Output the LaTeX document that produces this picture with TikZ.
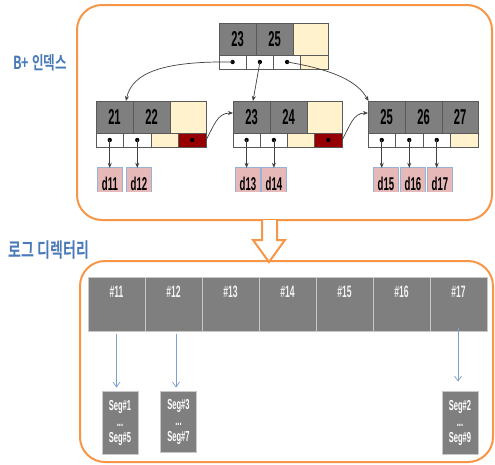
\documentclass[tikz,border=0pt]{standalone}
\usepackage{fontspec}
\usetikzlibrary{arrows.meta}
\newfontfamily\numfont{Liberation Sans}[FakeStretch=0.52]
\newfontfamily\krfont{Noto Sans CJK KR Bold}[FakeStretch=0.7]
\definecolor{orng}{HTML}{F79646}
\definecolor{keygrey}{HTML}{7F7F7F}
\definecolor{cellline}{HTML}{595959}
\definecolor{beige}{HTML}{FFF2CC}
\definecolor{dkred}{HTML}{960000}
\definecolor{pinkfill}{HTML}{E6B9B8}
\definecolor{pinkline}{HTML}{95B3D7}
\definecolor{lblblue}{HTML}{4A7AB8}
\definecolor{arrowgrey}{HTML}{404040}
\definecolor{arrowblue}{HTML}{7BA0CD}
\definecolor{dirline}{HTML}{C8C8C8}
\definecolor{lighttext}{HTML}{F2F2F2}
\begin{document}
\begin{tikzpicture}[x=1pt,y=-1pt,
  cellbase/.style={draw=cellline, line width=0.6pt, inner sep=0pt, outer sep=0pt},
  keycell/.style={cellbase, fill=keygrey, minimum height=32pt, minimum width=37pt,
    font=\numfont\bfseries\fontsize{21.5}{21.5}\selectfont},
  emptycell/.style={cellbase, fill=beige, minimum height=32pt},
  ptrcell/.style={cellbase, fill=white, minimum height=14pt},
  ptrempty/.style={cellbase, fill=beige, minimum height=14pt},
  ptrred/.style={cellbase, fill=dkred, minimum height=14pt},
  datbox/.style={fill=pinkfill, inner sep=0pt, minimum width=24pt, minimum height=24pt,
    text height=22pt, text depth=2pt, font=\numfont\bfseries\fontsize{18.5}{18.5}\selectfont},
  treearrow/.style={draw=arrowgrey, line width=0.7pt, -{Stealth[length=5pt,width=4pt]}},
  orangebox/.style={draw=orng, line width=2pt, rounded corners=25pt, fill=white},
  dircell/.style={draw=dirline, line width=1pt, fill=keygrey, minimum width=57pt,
    minimum height=54pt, inner sep=0pt, text height=20pt, text depth=34pt,
    text=lighttext, font=\numfont\bfseries\fontsize{16.5}{16.5}\selectfont},
  segbox/.style={draw=dirline, line width=0.8pt, fill=keygrey, minimum width=36pt,
    minimum height=63pt, inner sep=0pt, align=center, text=white,
    font=\numfont\bfseries\fontsize{14.5}{16}\selectfont},
  bluearrow/.style={draw=arrowblue, line width=0.7pt, -{Straight Barb[length=5pt,width=7pt]}},
  krlabel/.style={text=lblblue, inner sep=0pt}
]
\useasboundingbox (0,0) rectangle (495,464);

% containers
\node[orangebox, minimum width=415pt, minimum height=215pt, inner sep=0pt] (treebox) at (284.5,112.5) {};
\node[orangebox, minimum width=413pt, minimum height=201pt, inner sep=0pt] (logbox) at (286.5,361.5) {};

% hollow down arrow
\draw[draw=orng, line width=2pt, fill=white, line join=miter]
  (262,220) -- (262,240) -- (253,240) -- (269,262) -- (285,240) -- (277,240) -- (277,220);

% labels
\node[krlabel, font=\krfont\fontsize{18}{18}\selectfont] (lblbtree) at (40,63) {B+ 인덱스};
\node[krlabel, font=\krfont\fontsize{20}{20}\selectfont] (lbllog) at (49,250) {로그 디렉터리};

% root node
\node[keycell] (rk1) at (237.5,39) {23};
\node[keycell] (rk2) at (274.5,39) {25};
\node[emptycell, minimum width=35pt] (rk3) at (310.5,39) {};
\node[ptrcell, minimum width=27.25pt] (rp1) at (232.6,62) {};
\node[ptrcell, minimum width=27.25pt] (rp2) at (259.9,62) {};
\node[ptrcell, minimum width=27.25pt] (rp3) at (287.1,62) {};
\node[ptrempty, minimum width=27.25pt] (rp4) at (314.4,62) {};

% leaf 1
\node[keycell] (l1k1) at (114.5,117) {21};
\node[keycell] (l1k2) at (151.5,117) {22};
\node[emptycell, minimum width=36pt] (l1k3) at (188,117) {};
\node[ptrcell, minimum width=27.5pt] (l1p1) at (109.75,140) {};
\node[ptrcell, minimum width=27.5pt] (l1p2) at (137.25,140) {};
\node[ptrempty, minimum width=27.5pt] (l1p3) at (164.75,140) {};
\node[ptrred, minimum width=27.5pt] (l1p4) at (192.25,140) {};

% leaf 2
\node[keycell] (l2k1) at (251.5,117) {23};
\node[keycell] (l2k2) at (288.5,117) {24};
\node[emptycell, minimum width=35pt] (l2k3) at (324.5,117) {};
\node[ptrcell, minimum width=27.25pt] (l2p1) at (246.6,140) {};
\node[ptrcell, minimum width=27.25pt] (l2p2) at (273.9,140) {};
\node[ptrempty, minimum width=27.25pt] (l2p3) at (301.1,140) {};
\node[ptrred, minimum width=27.25pt] (l2p4) at (328.4,140) {};

% leaf 3
\node[keycell] (l3k1) at (386.5,117) {25};
\node[keycell] (l3k2) at (423.5,117) {26};
\node[keycell, minimum width=36pt] (l3k3) at (460,117) {27};
\node[ptrcell, minimum width=27.5pt] (l3p1) at (381.75,140) {};
\node[ptrcell, minimum width=27.5pt] (l3p2) at (409.25,140) {};
\node[ptrcell, minimum width=27.5pt] (l3p3) at (436.75,140) {};
\node[ptrempty, minimum width=27.5pt] (l3p4) at (464.25,140) {};

% pointer dots
\foreach \p in {rp1,rp2,rp3,l1p1,l1p2,l1p4,l2p1,l2p2,l2p4,l3p1,l3p2,l3p3}
  \fill[black] (\p.center) circle (2.2pt);

% data boxes
\foreach \n/\x in {d11/110,d12/139,d13/248,d14/274,d15/386,d16/413,d17/440}{
  \node[datbox] (\n) at (\x,180) {\n};
  \draw[pinkline, line width=0.8pt] (\n.south west) |- (\n.north east) -- (\n.south east);
}

% leaf pointers to data
\foreach \p/\d in {l1p1/d11,l1p2/d12,l2p1/d13,l2p2/d14,l3p1/d15,l3p2/d16,l3p3/d17}
  \draw[treearrow] (\p.center) -- (\p.center |- \d.north);

% root pointers to leaves
\draw[treearrow] (rp1.center) .. controls (165,61) and (132,72) .. ([xshift=11.5pt]l1k1.north);
\draw[treearrow] (rp2.center) -- ([xshift=1.5pt]l2k1.north);
\draw[treearrow] (rp3.center) .. controls (335,70) and (358,82) .. ([xshift=0.5pt]l3k1.north west);

% sibling links
\draw[treearrow] (l1p4.east) .. controls (214,126) and (217,113) .. ([yshift=-12pt]l2k1.north west);
\draw[treearrow] (l2p4.east) .. controls (350,126) and (353,113) .. ([yshift=-12pt]l3k1.north west);

% log directory
\foreach \i [count=\k from 0] in {11,12,13,14,15,16,17}
  \node[dircell] (c\i) at ({116.5+57*\k},304) {\#\i};

% segment boxes
\node[segbox] (s1) at (120,422.5) {Seg\#1\\...\\Seg\#5};
\node[segbox, minimum height=61pt] (s3) at (178.5,421.5) {Seg\#3\\...\\Seg\#7};
\node[segbox] (s2) at (460,422.5) {Seg\#2\\...\\Seg\#9};

\draw[bluearrow, shorten <=2pt, shorten >=3pt] (c11.south) -- (c11.south |- s1.north);
\draw[bluearrow, shorten <=2pt, shorten >=3pt] ([xshift=2.5pt]c12.south) -- ([xshift=2.5pt]c12.south |- s3.north);
\draw[bluearrow, shorten <=-4pt, shorten >=9pt] ([xshift=-0.5pt]c17.south) -- ([xshift=-0.5pt]c17.south |- s2.north);
\end{tikzpicture}
\end{document}
